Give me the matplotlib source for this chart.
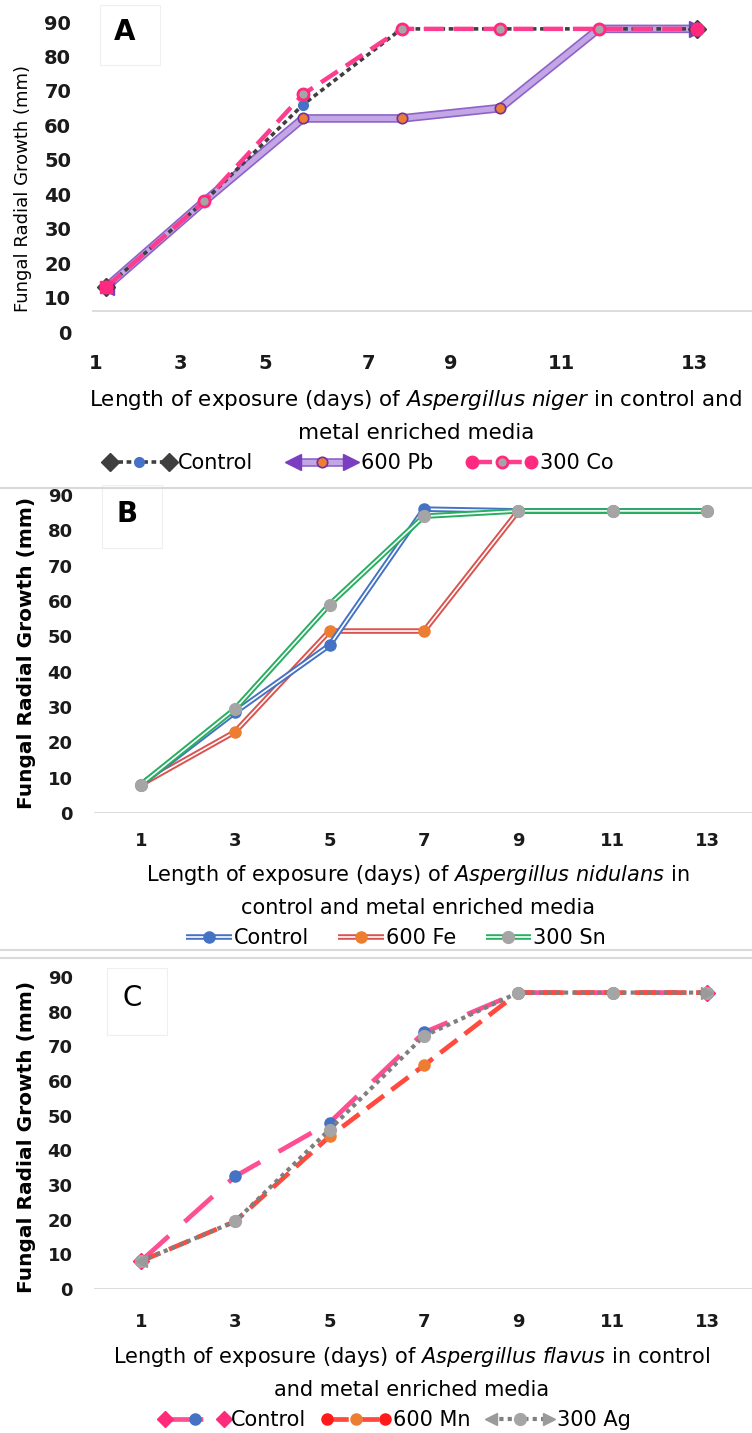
import matplotlib
matplotlib.use('Agg')
import matplotlib.pyplot as plt
import matplotlib.patheffects as pe
from matplotlib.legend_handler import HandlerBase
from matplotlib.lines import Line2D
from matplotlib.patches import Rectangle

plt.rcParams['font.family'] = ['DejaVu Sans']
plt.rcParams['mathtext.fontset'] = 'dejavusans'

# days of exposure (x categories)
days = [1, 3, 5, 7, 9, 11, 13]
growth_ticks = [0, 10, 20, 30, 40, 50, 60, 70, 80, 90]

# A - Aspergillus niger
niger_control = [13, 38, 66, 88, 88, 88, 88]
niger_pb600 = [13, 38, 62, 62, 65, 88, 88]
niger_co300 = [13, 38, 69, 88, 88, 88, 88]

# B - Aspergillus nidulans
nidulans_control = [8, 28.5, 47.5, 86, 85.5, 85.5, 85.5]
nidulans_fe600 = [8, 23, 51.5, 51.5, 85.5, 85.5, 85.5]
nidulans_sn300 = [8, 29.5, 59, 84, 85.5, 85.5, 85.5]

# C - Aspergillus flavus
flavus_control = [8, 32.5, 48, 74, 85.5, 85.5, 85.5]
flavus_mn600 = [8, 19.5, 44, 64.5, 85.5, 85.5, 85.5]
flavus_ag300 = [8, 19.5, 46, 73, 85.5, 85.5, 85.5]

W, H = 752, 1433


def box(l, t, r, b):
    return [l / W, 1 - b / H, (r - l) / W, (b - t) / H]


def fx(x):
    return x / W


def fy(y):
    return 1 - y / H


class Key:
    def __init__(self, st):
        self.st = st


class KeyHandler(HandlerBase):
    # excel style legend key: line, end shapes and a marker in the middle
    def create_artists(self, legend, orig, xd, yd, width, height, fontsize, trans):
        st = orig.st
        y = height / 2 - yd
        x0, x1 = -xd, width - xd
        arts = []
        ln = Line2D([x0, x1], [y, y], color=st['color'], lw=st['lw'],
                    solid_capstyle='butt', dash_capstyle='butt')
        if 'dashes' in st:
            ln.set_dashes(st['dashes'])
        if 'fx' in st:
            ln.set_path_effects(st['fx'])
        arts.append(ln)
        if st.get('start'):
            arts.append(Line2D([x0], [y], ls='none', marker=st.get('key_start', st['start']),
                               ms=st['end_ms'], color=st['end_color']))
        if st.get('end'):
            arts.append(Line2D([x1], [y], ls='none', marker=st['end'],
                               ms=st['end_ms'], color=st['end_color']))
        arts.append(Line2D([(x0 + x1) / 2], [y], ls='none', marker='o', ms=st['ms'],
                           mfc=st['mfc'], mec=st['mec'], mew=st['mew']))
        for a in arts:
            a.set_transform(trans)
        return arts


def draw_series(ax, y, st, z):
    x = list(range(len(y)))
    ln, = ax.plot(x, y, color=st['color'], lw=st['lw'], zorder=z, clip_on=False,
                  solid_capstyle='butt', dash_capstyle='butt')
    if 'dashes' in st:
        ln.set_dashes(st['dashes'])
    if 'fx' in st:
        ln.set_path_effects(st['fx'])
    ax.plot(x, y, ls='none', marker='o', ms=st['ms'], mfc=st['mfc'], mec=st['mec'],
            mew=st['mew'], zorder=z + 0.5, clip_on=False)
    if st.get('start'):
        ax.plot(x[0], y[0], ls='none', marker=st['start'], ms=st['end_ms'],
                color=st['end_color'], zorder=z + 0.6, clip_on=False)
    if st.get('end'):
        ax.plot(x[-1], y[-1], ls='none', marker=st['end'], ms=st['end_ms'],
                color=st['end_color'], zorder=z + 0.6, clip_on=False)
    return Key(st)


def double(c):
    return [pe.Stroke(linewidth=4.0, foreground=c), pe.Normal()]


styles_a = [
    dict(color='#3f3f3f', lw=2.6, dashes=(1.3, 1.0), ms=7, mfc='#4472C4', mec='#4472C4', mew=1,
         start='D', end='D', end_ms=9, end_color='#3f3f3f'),
    dict(color='#c2a6e6', lw=3.8, fx=[pe.Stroke(linewidth=6.2, foreground='#8e62c8'), pe.Normal()],
         ms=7.5, mfc='#ED7D31', mec='#7030A0', mew=1.2,
         start='<', end='>', end_ms=11, end_color='#7a3fc0'),
    dict(color='#ff3d8e', lw=3.2, dashes=(4.5, 2.2), ms=8, mfc='#a5a5a5', mec='#ff2a80', mew=2,
         start='s', key_start='o', end='o', end_ms=9, end_color='#ff2a80'),
]
styles_b = [
    dict(color='white', lw=1.2, fx=double('#4472C4'),
         ms=8, mfc='#4472C4', mec='#4472C4', mew=1),
    dict(color='white', lw=1.2, fx=double('#d9534f'),
         ms=8, mfc='#ED7D31', mec='#ED7D31', mew=1),
    dict(color='white', lw=1.2, fx=double('#27ae60'),
         ms=8.5, mfc='#a5a5a5', mec='#a5a5a5', mew=1),
]
styles_c = [
    dict(color='#ff4f93', lw=3.4, dashes=(8, 4.5), ms=8, mfc='#4472C4', mec='#4472C4', mew=1,
         start='D', end='D', end_ms=8, end_color='#ff2a7a'),
    dict(color='#ff4a3d', lw=3.4, dashes=(4.5, 2.0), ms=8, mfc='#ED7D31', mec='#ED7D31', mew=1,
         start='o', end='o', end_ms=8, end_color='#ff1a1a'),
    dict(color='#7f7f7f', lw=3.0, dashes=(1.0, 1.0), ms=8.5, mfc='#a5a5a5', mec='#a5a5a5', mew=1,
         start='<', end='>', end_ms=9, end_color='#9a9a9a'),
]


def setup_axes(ax, xlim, tick_pos, xpad, tick_size, base):
    ax.set_xlim(*xlim)
    ax.set_ylim(0, 90)
    ax.set_yticks(growth_ticks)
    ax.set_xticks(tick_pos)
    ax.set_xticklabels([str(d) for d in days])
    for s in ['top', 'right', 'left', 'bottom']:
        ax.spines[s].set_visible(False)
    # category axis line
    ax.axhline(base, color='#d9d9d9', lw=1.3, zorder=1)
    ax.tick_params(length=0, labelsize=tick_size, colors='#1a1a1a')
    ax.tick_params(axis='y', pad=15)
    ax.tick_params(axis='x', pad=xpad)
    for t in ax.get_xticklabels() + ax.get_yticklabels():
        t.set_fontweight('bold')
    ax.patch.set_alpha(0)


def panel_letter(l, t, r, b, letter, weight):
    fig.add_artist(Rectangle((fx(l), fy(b)), (r - l) / W, (b - t) / H, transform=fig.transFigure,
                             facecolor='white', edgecolor='#efefef', lw=0.8, zorder=0))
    fig.text(fx((l + r) / 2 - 5), fy((t + b) / 2 - 3), letter, fontsize=20, fontweight=weight,
             ha='center', va='center')


fig = plt.figure(figsize=(W / 100, H / 100), dpi=100)
fig.patch.set_facecolor('white')

# separators between the three charts
fig.add_artist(Line2D([0, 1], [fy(488), fy(488)], color='#d9d9d9', lw=1.5))
fig.add_artist(Line2D([0, 1], [fy(950), fy(950)], color='#d9d9d9', lw=1.5))
fig.add_artist(Line2D([0, 1], [fy(958), fy(958)], color='#d9d9d9', lw=1.5))

panel_letter(100, 5, 160, 65, 'A', 'bold')
panel_letter(102, 485, 162, 548, 'B', 'bold')
panel_letter(107, 968, 167, 1035, 'C', 'normal')

leg_kw = dict(handler_map={Key: KeyHandler()}, loc='center', ncol=3, frameon=False,
              fontsize=15, borderpad=0)

# ---- A ----
axA = fig.add_axes(box(92, 22, 752, 332))
setup_axes(axA, (-0.142, 6.558), [-0.11, 0.76, 1.62, 2.66, 3.50, 4.62, 5.97], 16, 14, 6)
kA = [draw_series(axA, niger_pb600, styles_a[1], 3),
      draw_series(axA, niger_control, styles_a[0], 4),
      draw_series(axA, niger_co300, styles_a[2], 5)]
fig.text(fx(23), fy(189), 'Fungal Radial Growth (mm)', rotation=90, fontsize=13,
         ha='center', va='center')
fig.text(fx(416), fy(400), r'Length of exposure (days) of $\mathit{Aspergillus\ niger}$ in control and',
         fontsize=15.5, ha='center', va='center')
fig.text(fx(416), fy(433), 'metal enriched media', fontsize=15.5, ha='center', va='center')
fig.legend([kA[1], kA[0], kA[2]], ['Control', '600 Pb', '300 Co'],
           bbox_to_anchor=(fx(362), fy(463)), handlelength=2.8, handletextpad=0.45,
           columnspacing=1.9, **leg_kw)

# ---- B ----
axB = fig.add_axes(box(93.5, 495, 754.5, 813))
setup_axes(axB, (-0.5, 6.5), list(range(7)), 14, 13, 0)
kB = [draw_series(axB, nidulans_fe600, styles_b[1], 3),
      draw_series(axB, nidulans_control, styles_b[0], 4),
      draw_series(axB, nidulans_sn300, styles_b[2], 5)]
fig.text(fx(27), fy(653), 'Fungal Radial Growth (mm)', rotation=90, fontsize=14.5,
         fontweight='bold', ha='center', va='center')
fig.text(fx(418), fy(875), r'Length of exposure (days) of $\mathit{Aspergillus\ nidulans}$ in',
         fontsize=15, ha='center', va='center')
fig.text(fx(418), fy(908), 'control and metal enriched media', fontsize=15, ha='center', va='center')
fig.legend([kB[1], kB[0], kB[2]], ['Control', '600 Fe', '300 Sn'],
           bbox_to_anchor=(fx(396), fy(938)), handlelength=2.2, handletextpad=0.1,
           columnspacing=1.4, **leg_kw)

# ---- C ----
axC = fig.add_axes(box(93.5, 977, 754.5, 1289))
setup_axes(axC, (-0.5, 6.5), list(range(7)), 17, 13, 0)
kC = [draw_series(axC, flavus_control, styles_c[0], 3),
      draw_series(axC, flavus_mn600, styles_c[1], 4),
      draw_series(axC, flavus_ag300, styles_c[2], 5)]
fig.text(fx(27), fy(1137), 'Fungal Radial Growth (mm)', rotation=90, fontsize=14.5,
         fontweight='bold', ha='center', va='center')
fig.text(fx(412), fy(1357), r'Length of exposure (days) of $\mathit{Aspergillus\ flavus}$ in control',
         fontsize=15, ha='center', va='center')
fig.text(fx(412), fy(1390), 'and metal enriched media', fontsize=15, ha='center', va='center')
fig.legend(kC, ['Control', '600 Mn', '300 Ag'],
           bbox_to_anchor=(fx(398), fy(1420)), handlelength=2.8, handletextpad=0.35,
           columnspacing=1.0, **leg_kw)

fig.savefig('out.png', dpi=100)
